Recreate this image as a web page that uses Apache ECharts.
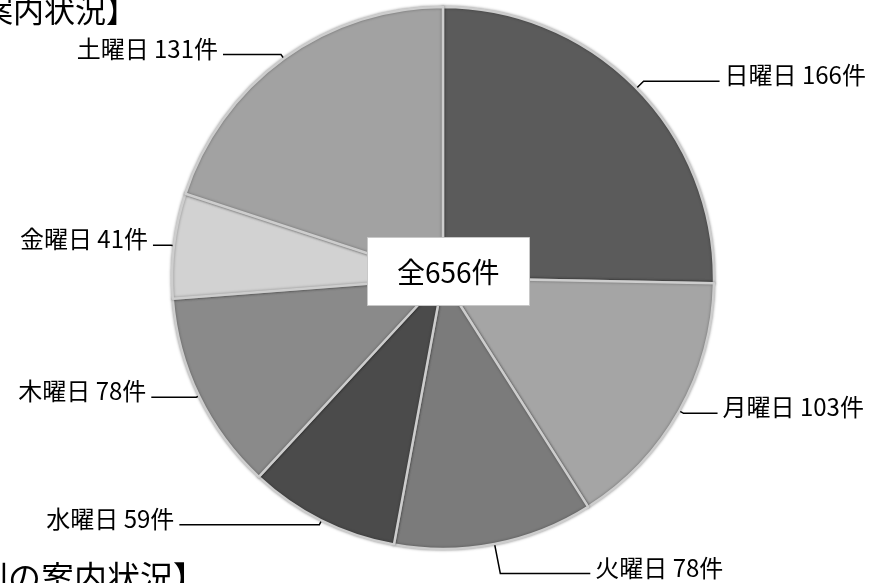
<!DOCTYPE html>
<html>
<head>
<meta charset="utf-8">
<script src="https://cdn.jsdelivr.net/npm/echarts@6/dist/echarts.min.js"></script>
<style>
html,body{margin:0;padding:0;background:#fff;overflow:hidden;}
#chart{width:884px;height:583px;}
</style>
</head>
<body>
<div id="chart"></div>
<script>
const categories = ['日曜日','月曜日','火曜日','水曜日','木曜日','金曜日','土曜日'];
const values = [166, 103, 78, 59, 78, 41, 131];
const sliceColors = ['#5b5b5b','#a5a5a5','#7b7b7b','#4b4b4b','#8a8a8a','#d2d2d2','#a2a2a2'];
const lineLen = [10, 5, 30, 5, 3, 3, 5];
const lineLen2 = [76, 34, 90, 140, 45, 18, 58];
const unit = '件';
const total = values.reduce((a, b) => a + b, 0);

const FONT = '"Noto Sans CJK JP", "Noto Sans", sans-serif';
const chart = echarts.init(document.getElementById('chart'));

const data = categories.map((c, i) => ({
  name: c,
  value: values[i],
  itemStyle: { color: sliceColors[i] },
  labelLine: { length: lineLen[i], length2: lineLen2[i] }
}));

chart.setOption({
  animation: false,
  backgroundColor: '#ffffff',
  title: {
    text: '全' + total + unit,
    left: 367,
    top: 237,
    padding: [21, 30, 20, 30],
    backgroundColor: '#ffffff',
    borderColor: '#c8c8c8',
    borderWidth: 1,
    textStyle: { fontFamily: FONT, fontSize: 28, fontWeight: 'normal', color: '#000' },
    z: 10
  },
  graphic: [
    { type: 'text', left: -18, top: -5,
      style: { text: '案内状況】', fontFamily: FONT, fontSize: 31, fill: '#000' } },
    { type: 'text', left: -25, top: 561,
      style: { text: '別の案内状況】', fontFamily: FONT, fontSize: 33, fill: '#000' } }
  ],
  series: [{
    type: 'pie',
    center: [443, 278],
    radius: [0, 271],
    startAngle: 90,
    clockwise: true,
    avoidLabelOverlap: false,
    itemStyle: {
      borderColor: '#cdcdcd',
      borderWidth: 2.5,
      shadowBlur: 3,
      shadowColor: 'rgba(0,0,0,0.35)'
    },
    label: {
      show: true,
      position: 'outside',
      formatter: p => '{t|' + p.name + ' ' + p.value + unit + '}\n{s|}',
      rich: {
        t: { fontFamily: FONT, fontSize: 24, color: '#000', lineHeight: 30 },
        s: { fontSize: 1, lineHeight: 12 }
      }
    },
    labelLine: {
      show: true,
      smooth: false,
      lineStyle: { color: '#000', width: 1.5 }
    },
    emphasis: { disabled: true },
    data: data
  }]
});
</script>
</body>
</html>
